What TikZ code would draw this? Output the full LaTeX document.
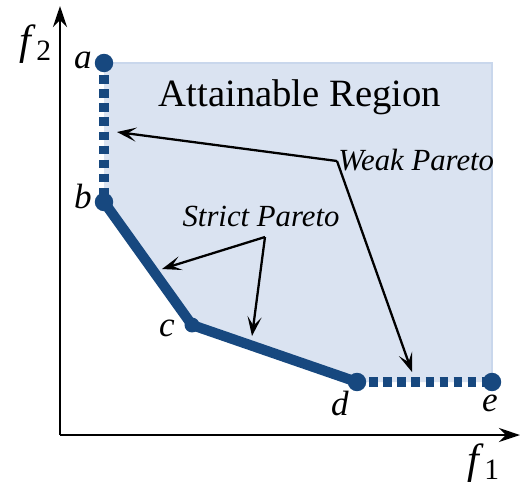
\documentclass[tikz,border=0pt]{standalone}
\usepackage{fontspec}
\setmainfont{Liberation Serif}
\usetikzlibrary{arrows.meta, positioning}
\definecolor{pblue}{HTML}{17487F}
\definecolor{plight}{HTML}{DAE3F1}
\definecolor{pedge}{HTML}{C9D7EC}
\tikzset{
  axisline/.style={-{Stealth[length=12pt, width=8pt, inset=4pt]}, line width=1.4pt},
  frontline/.style={pblue, line width=5.8pt, line cap=round, line join=round},
  weakline/.style={pblue, line width=5.2pt, dash pattern=on 5pt off 3pt},
  pnt/.style={circle, fill=pblue, inner sep=0pt, minimum size=10.5pt},
  callarr/.style={-{Stealth[length=11pt, width=8pt, inset=5pt]}, line width=1.3pt},
  ptlbl/.style={font=\fontsize{20}{22}\selectfont\itshape, inner sep=1pt},
  calltext/.style={font=\fontsize{17.5}{20}\selectfont\itshape, inner sep=0pt},
}
\begin{document}
\begin{tikzpicture}[x=0.02cm, y=-0.02cm]
  \useasboundingbox (0,0) rectangle (520,485);

  % attainable region
  \coordinate (ptA) at (104,63);
  \coordinate (ptB) at (104,202);
  \coordinate (ptC) at (192,325);
  \coordinate (ptD) at (357,382);
  \coordinate (ptE) at (492,382);
  \coordinate (corner) at (492,63);
  \fill[plight] (ptA) -- (corner) -- (ptE) -- (ptD) -- (ptC) -- (ptB) -- cycle;
  \draw[pedge, line width=0.8pt] (ptA) -- (corner) -- (ptE);
  \node[font=\fontsize{22}{24}\selectfont] (region) at (300,97) {Attainable Region};

  % axes
  \coordinate (origin) at (60,435);
  \coordinate (ytop) at (60,6);
  \coordinate (xend) at (520,435);
  \draw[axisline] (origin) -- (ytop);
  \draw[axisline] (origin) -- (xend);
  \node[font=\fontsize{24}{26}\selectfont] (ylbl) at (36,44) {\textit{f}\textsubscript{2}};
  \node[font=\fontsize{24}{26}\selectfont] (xlbl) at (484,463) {\textit{f}\textsubscript{1}};

  % pareto front
  \draw[weakline] ([yshift=-7pt]ptA) -- (ptB);
  \draw[weakline] ([xshift=7pt]ptD) -- (ptE);
  \draw[frontline] (ptB) -- (ptC) -- (ptD);
  \foreach \p in {ptA, ptB, ptD, ptE}{
    \node[pnt] at (\p) {};
  }
  \node[pnt, minimum size=8.5pt] at (ptC) {};

  % point labels
  \node[ptlbl] (la) at (83,60) {a};
  \node[ptlbl] (lb) at (83,196) {b};
  \node[ptlbl] (lc) at (167,328) {c};
  \node[ptlbl] (ld) at (340,403) {d};
  \node[ptlbl] (le) at (490,403) {e};

  % callouts
  \coordinate (weakpiv) at (337,161);
  \node[calltext, anchor=west] (weak) at (338,160) {Weak Pareto};
  \coordinate (weaktipA) at (117,132);
  \coordinate (weaktipB) at (412,372);
  \draw[callarr] (weakpiv) -- (weaktipA);
  \draw[callarr] (weakpiv) -- (weaktipB);

  \coordinate (strictpiv) at (265,237);
  \node[calltext] (strict) at (261,216) {Strict Pareto};
  \coordinate (stricttipA) at (162,269);
  \coordinate (stricttipB) at (252,336);
  \draw[callarr] (strictpiv) -- (stricttipA);
  \draw[callarr] (strictpiv) -- (stricttipB);
\end{tikzpicture}
\end{document}
